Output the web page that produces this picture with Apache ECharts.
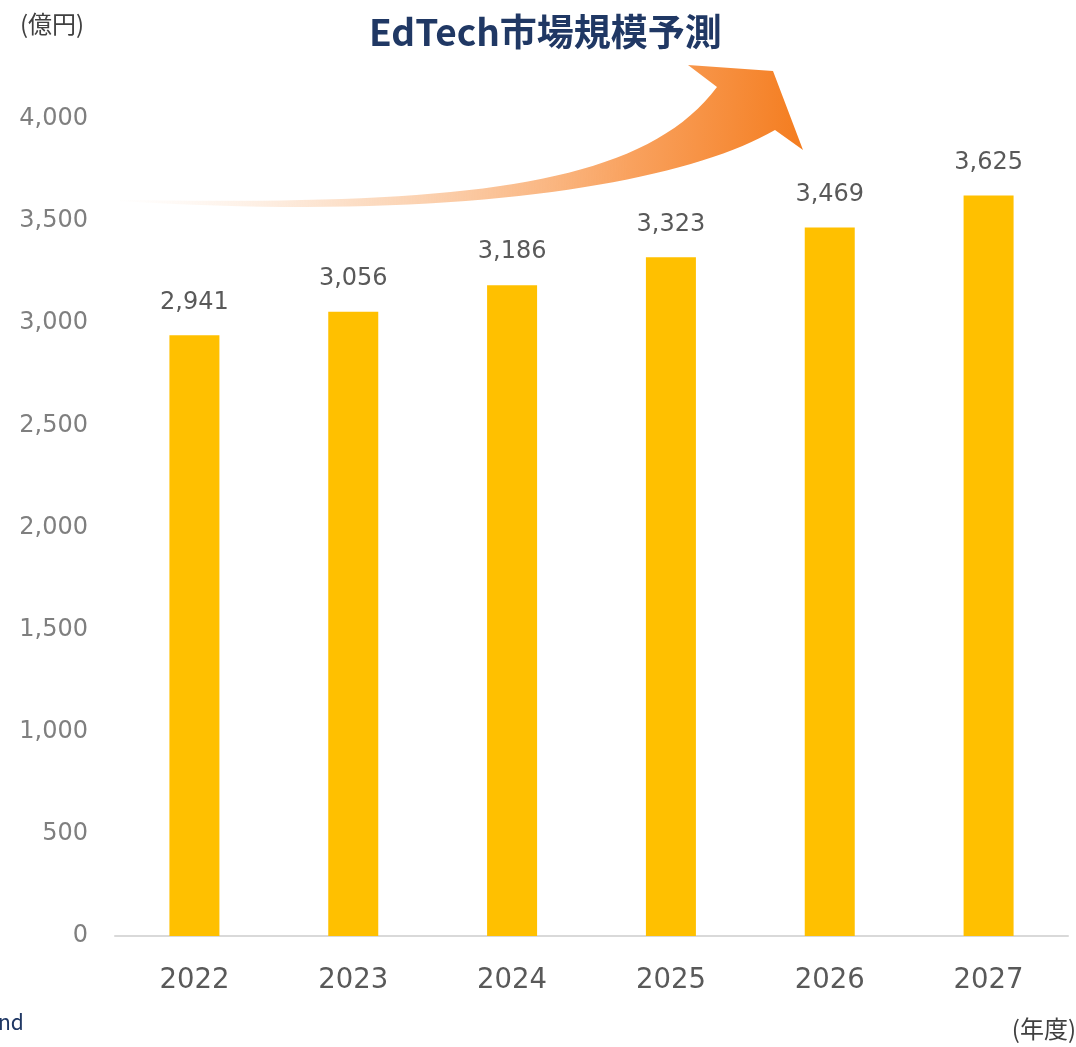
<!DOCTYPE html>
<html>
<head>
<meta charset="utf-8">
<script src="https://cdn.jsdelivr.net/npm/echarts@6/dist/echarts.min.js"></script>
<style>
  html, body { margin: 0; padding: 0; background: #fff; }
  #chart { width: 1076px; height: 1047px; }
</style>
</head>
<body>
<div id="chart"></div>
<script>
// 年度と市場規模（億円）
var years = ["2022", "2023", "2024", "2025", "2026", "2027"];
var marketSize = [2941, 3056, 3186, 3323, 3469, 3625];
var yTicks = [0, 500, 1000, 1500, 2000, 2500, 3000, 3500, 4000];

var numFont = "DejaVu Sans";
var jpFont = "Noto Sans CJK JP";

// 3次ベジェを点列にする（装飾の矢印用）
function bezier(p0, p1, p2, p3, n) {
  var pts = [];
  for (var i = 0; i <= n; i++) {
    var t = i / n, u = 1 - t;
    pts.push([
      u * u * u * p0[0] + 3 * u * u * t * p1[0] + 3 * u * t * t * p2[0] + t * t * t * p3[0],
      u * u * u * p0[1] + 3 * u * u * t * p1[1] + 3 * u * t * t * p2[1] + t * t * t * p3[1]
    ]);
  }
  return pts;
}
var arrowPts = bezier([120, 200], [450, 205], [640, 190], [717, 87], 40)
  .concat([[688, 65], [773, 71], [803, 150]])
  .concat(bezier([775, 130], [680, 185], [450, 222], [120, 201], 40));

var chart = echarts.init(document.getElementById("chart"));

var option = {
  animation: false,
  grid: { left: 115, right: 8, top: 119, bottom: 111 },
  xAxis: {
    type: "category",
    data: years,
    axisTick: { show: false },
    axisLine: { lineStyle: { color: "#d9d9d9", width: 2 } },
    axisLabel: { color: "#595959", fontSize: 27.5, fontFamily: numFont, margin: 31 }
  },
  yAxis: {
    type: "value",
    min: yTicks[0],
    max: yTicks[yTicks.length - 1],
    interval: 500,
    splitLine: { show: false },
    axisLine: { show: false },
    axisTick: { show: false },
    axisLabel: {
      color: "#7f7f7f",
      fontSize: 24,
      fontFamily: numFont,
      margin: 27,
      formatter: function (v) { return v.toLocaleString("en-US"); }
    }
  },
  series: [
    {
      type: "bar",
      data: marketSize,
      barWidth: 50,
      itemStyle: { color: "#FFC000" },
      label: {
        show: true,
        position: "top",
        distance: 21,
        color: "#595959",
        fontSize: 24,
        fontFamily: numFont,
        formatter: function (p) { return p.value.toLocaleString("en-US"); }
      }
    }
  ],
  graphic: [
    // 右肩上がりの矢印（装飾）
    {
      type: "polygon",
      z: 10,
      shape: { points: arrowPts },
      style: {
        fill: {
          type: "linear",
          x: 0, y: 0, x2: 1, y2: 0.3,
          colorStops: [
            { offset: 0, color: "rgba(252,228,210,0)" },
            { offset: 0.35, color: "rgba(250,200,160,0.6)" },
            { offset: 0.75, color: "#F9A25F" },
            { offset: 1, color: "#F47D20" }
          ]
        }
      }
    },
    {
      type: "text",
      left: 369,
      top: 13,
      style: {
        text: "EdTech市場規模予測",
        fill: "#203864",
        font: "bold 37px '" + jpFont + "'"
      }
    },
    {
      type: "text",
      left: 20,
      top: 12,
      style: { text: "(億円)", fill: "#404040", font: "24px '" + jpFont + "'" }
    },
    {
      type: "text",
      right: 0,
      top: 1017,
      style: { text: "(年度)", fill: "#404040", font: "24px '" + jpFont + "'" }
    },
    {
      type: "text",
      left: -2,
      top: 1012,
      style: { text: "nd", fill: "#203864", font: "21px '" + jpFont + "'" }
    }
  ]
};

chart.setOption(option);
</script>
</body>
</html>
